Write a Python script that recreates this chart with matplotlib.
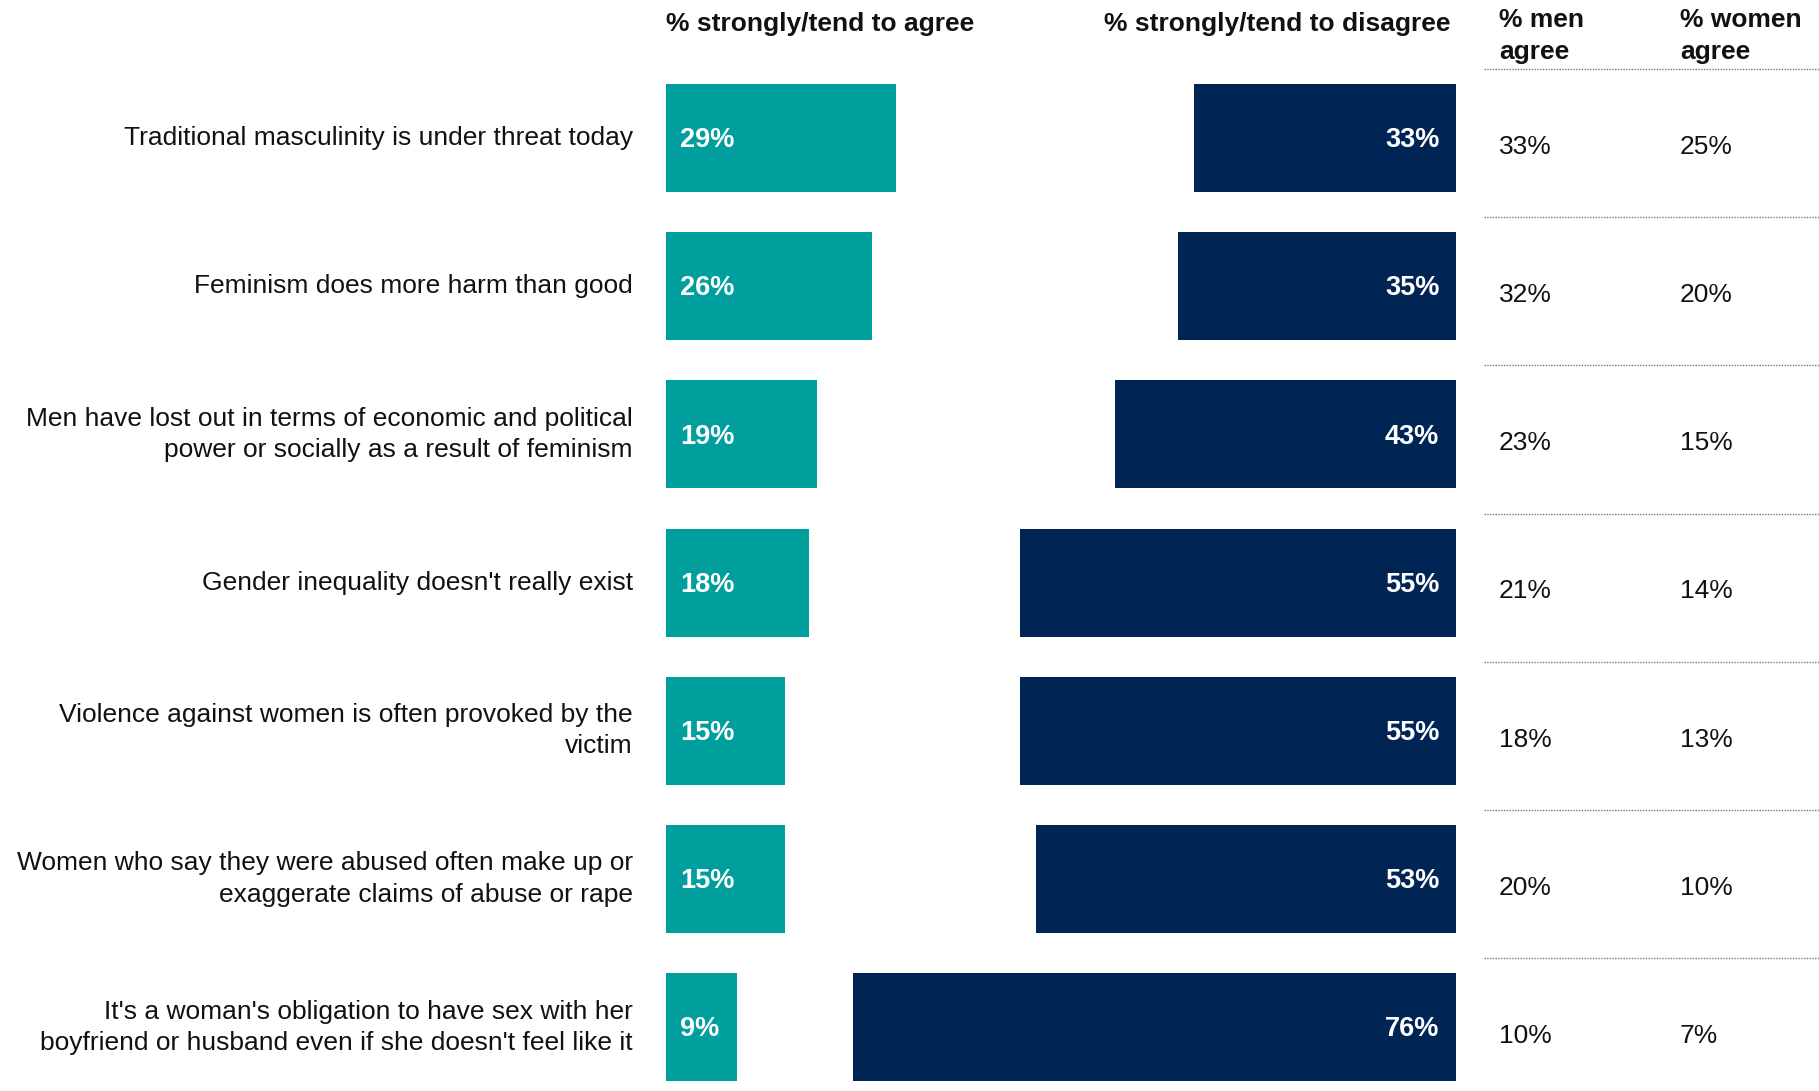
import matplotlib
matplotlib.use("Agg")
import matplotlib.pyplot as plt
import matplotlib.transforms as mtransforms

plt.rcParams['font.family'] = ['Liberation Sans', 'DejaVu Sans']

statements = [
    "Traditional masculinity is under threat today",
    "Feminism does more harm than good",
    "Men have lost out in terms of economic and political\npower or socially as a result of feminism",
    "Gender inequality doesn't really exist",
    "Violence against women is often provoked by the\nvictim",
    "Women who say they were abused often make up or\nexaggerate claims of abuse or rape",
    "It's a woman's obligation to have sex with her\nboyfriend or husband even if she doesn't feel like it",
]
agree = [29, 26, 19, 18, 15, 15, 9]
disagree = [33, 35, 43, 55, 55, 53, 76]
men_agree = [33, 32, 23, 21, 18, 20, 10]
women_agree = [25, 20, 15, 14, 13, 10, 7]

header_agree = "% strongly/tend to agree"
header_disagree = "% strongly/tend to disagree"
header_men = "% men\nagree"
header_women = "% women\nagree"

TEAL = "#009E9C"
NAVY = "#002554"

W, H = 1819, 1091
fig = plt.figure(figsize=(W / 100, H / 100), dpi=100)

px_per_pct = 7.93
row_h = 148.2
top_center = 138
n = len(statements)
ax_top = top_center - row_h / 2
ax_bot = ax_top + n * row_h

# agree axes
a_left = 666
a_max = 40
ax1 = fig.add_axes([a_left / W, 1 - ax_bot / H, a_max * px_per_pct / W, (ax_bot - ax_top) / H])
# disagree axes (reversed)
d_right = 1456
d_max = 80
ax2 = fig.add_axes([(d_right - d_max * px_per_pct) / W, 1 - ax_bot / H, d_max * px_per_pct / W, (ax_bot - ax_top) / H])

ypos = list(range(n))
for ax in (ax1, ax2):
    ax.set_ylim(n - 0.5, -0.5)
    ax.patch.set_alpha(0)
    for s in ax.spines.values():
        s.set_visible(False)
    ax.set_xticks([])

ax1.set_xlim(0, a_max)
ax2.set_xlim(d_max, 0)

bh = 0.73
ax1.barh(ypos, agree, height=bh, color=TEAL, clip_on=False)
ax2.barh(ypos, disagree, height=bh, color=NAVY, clip_on=False)

ax1.set_yticks(ypos)
ax1.set_yticklabels(statements, fontsize=19, color="#111111", linespacing=1.38, va="center")
ax1.tick_params(axis='y', length=0, pad=24)
ax2.set_yticks([])

for i, v in enumerate(agree):
    ax1.annotate(f"{v}%", (0, i + 0.015), xytext=(10, 0), textcoords="offset points",
                 ha="left", va="center", color="white", fontsize=19.5, fontweight="bold")
for i, v in enumerate(disagree):
    ax2.annotate(f"{v}%", (0, i + 0.015), xytext=(-12, 0), textcoords="offset points",
                 ha="right", va="center", color="white", fontsize=19.5, fontweight="bold")

# headers
fig.text(a_left / W, 1 - 24 / H, header_agree, ha="left", va="center",
         fontsize=19, fontweight="bold", color="#111111")
fig.text(1450 / W, 1 - 24 / H, header_disagree, ha="right", va="center",
         fontsize=19, fontweight="bold", color="#111111")
fig.text(1499 / W, 1 - 36 / H, header_men, ha="left", va="center",
         fontsize=19, fontweight="bold", color="#111111", linespacing=1.38)
fig.text(1680 / W, 1 - 36 / H, header_women, ha="left", va="center",
         fontsize=19, fontweight="bold", color="#111111", linespacing=1.38)

trans = mtransforms.blended_transform_factory(fig.transFigure, ax1.transData)
for i in range(n):
    ax1.text(1499 / W, i + 0.06, f"{men_agree[i]}%", transform=trans, ha="left", va="center",
             fontsize=19, color="#111111")
    ax1.text(1680 / W, i + 0.06, f"{women_agree[i]}%", transform=trans, ha="left", va="center",
             fontsize=19, color="#111111")
    ax1.plot([1484 / W, 1.0], [i - 0.465, i - 0.465], transform=trans, color="#777777",
             lw=1.0, ls=(0, (1, 1)), clip_on=False)

fig.savefig("out.png", dpi=100)
